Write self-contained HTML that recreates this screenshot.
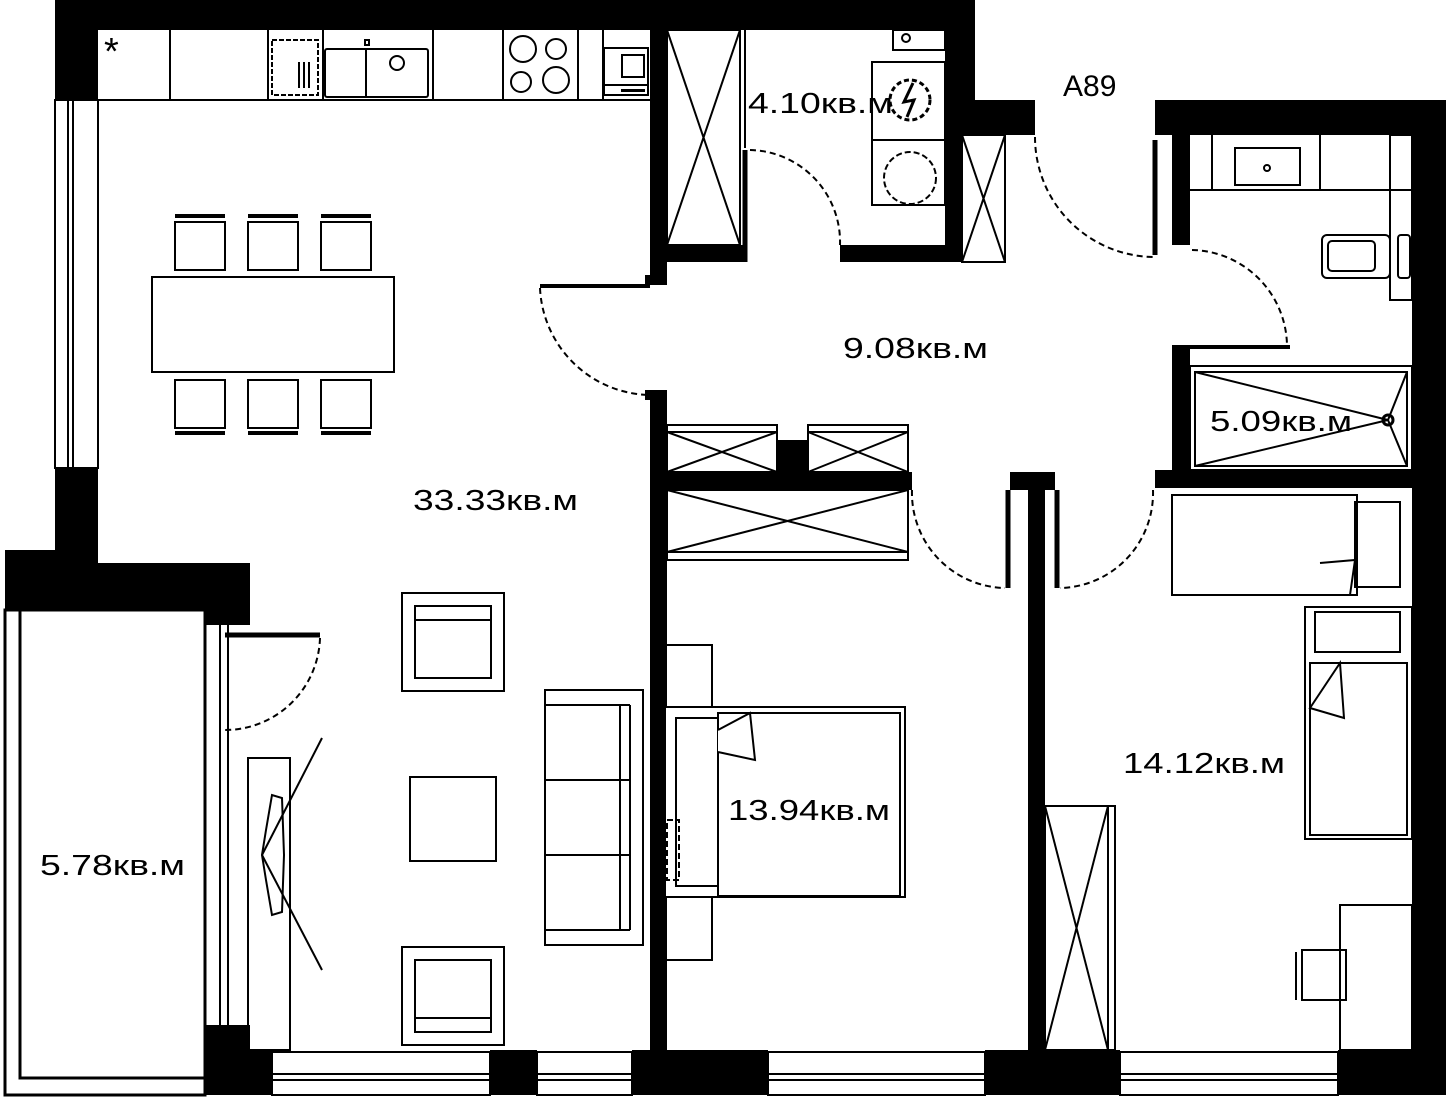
<!DOCTYPE html>
<html><head><meta charset="utf-8"><style>
html,body{margin:0;padding:0;background:#fff;}
svg{display:block;}
text{font-family:"Liberation Sans",sans-serif;fill:#000;}
</style></head><body>
<svg width="1446" height="1108" viewBox="0 0 1446 1108" xmlns="http://www.w3.org/2000/svg">
<g fill="#000">
<rect x="55" y="0" width="920" height="30"/>
<rect x="55" y="0" width="43" height="100"/>
<rect x="55" y="468" width="43" height="97"/>
<rect x="5" y="550" width="50" height="20"/>
<rect x="5" y="563" width="245" height="47"/>
<rect x="205" y="600" width="45" height="25"/>
<rect x="945" y="0" width="30" height="100"/>
<rect x="945" y="100" width="17" height="162"/>
<rect x="962" y="100" width="73" height="35"/>
<rect x="1155" y="100" width="291" height="35"/>
<rect x="1412" y="100" width="34" height="995"/>
<rect x="205" y="1050" width="67" height="45"/>
<rect x="205" y="1025" width="45" height="30"/>
<rect x="490" y="1050" width="47" height="45"/>
<rect x="632" y="1050" width="136" height="45"/>
<rect x="985" y="1050" width="135" height="45"/>
<rect x="1338" y="1050" width="108" height="45"/>
<rect x="650" y="30" width="17" height="255"/>
<rect x="645" y="275" width="22" height="10"/>
<rect x="667" y="245" width="78" height="17"/>
<rect x="840" y="245" width="105" height="17"/>
<rect x="650" y="390" width="17" height="660"/>
<rect x="645" y="390" width="22" height="10"/>
<rect x="667" y="472" width="245" height="18"/>
<rect x="777" y="440" width="31" height="32"/>
<rect x="1028" y="478" width="17" height="572"/>
<rect x="1010" y="472" width="45" height="18"/>
<rect x="1172" y="135" width="18" height="110"/>
<rect x="1172" y="345" width="18" height="125"/>
<rect x="1155" y="470" width="257" height="18"/>
</g>
<g fill="none" stroke="#000" stroke-width="2">
<rect x="55" y="100" width="43" height="368"/>
<line x1="68" y1="100" x2="68" y2="468"/><line x1="73" y1="100" x2="73" y2="468"/>
<rect x="5" y="610" width="200" height="485" stroke-width="3"/>
<rect x="20" y="610" width="185" height="468" stroke-width="3"/>
<line x1="220" y1="625" x2="220" y2="1025"/><line x1="228" y1="625" x2="228" y2="1025"/>
<line x1="225" y1="635" x2="320" y2="635" stroke-width="5"/>
<path d="M320 638 A95 95 0 0 1 225 730" stroke-dasharray="6 4"/>
<g>
<rect x="272" y="1052" width="218" height="43"/><line x1="272" y1="1074" x2="490" y2="1074"/><line x1="272" y1="1080" x2="490" y2="1080"/>
<rect x="537" y="1052" width="95" height="43"/><line x1="537" y1="1074" x2="632" y2="1074"/><line x1="537" y1="1080" x2="632" y2="1080"/>
<rect x="768" y="1052" width="217" height="43"/><line x1="768" y1="1074" x2="985" y2="1074"/><line x1="768" y1="1080" x2="985" y2="1080"/>
<rect x="1120" y="1052" width="218" height="43"/><line x1="1120" y1="1074" x2="1338" y2="1074"/><line x1="1120" y1="1080" x2="1338" y2="1080"/>
</g>
<line x1="98" y1="100" x2="650" y2="100"/>
<line x1="170" y1="30" x2="170" y2="100"/><line x1="268" y1="30" x2="268" y2="100"/>
<line x1="323" y1="30" x2="323" y2="100"/><line x1="433" y1="30" x2="433" y2="100"/>
<line x1="503" y1="30" x2="503" y2="100"/><line x1="578" y1="30" x2="578" y2="100"/>
<line x1="603" y1="30" x2="603" y2="100"/>
<rect x="272" y="40" width="46" height="55" stroke-dasharray="5 2"/>
<line x1="299" y1="62" x2="299" y2="88"/><line x1="304" y1="62" x2="304" y2="88"/><line x1="309" y1="62" x2="309" y2="88"/>
<rect x="325" y="49" width="103" height="48" rx="2"/><line x1="366" y1="49" x2="366" y2="97"/>
<circle cx="397" cy="63" r="7"/><rect x="365" y="40" width="4" height="5"/>
<circle cx="523" cy="49" r="13"/><circle cx="556" cy="49" r="10"/><circle cx="521" cy="82" r="10"/><circle cx="556" cy="80" r="13"/>
<rect x="604" y="48" width="44" height="47"/><line x1="604" y1="85" x2="648" y2="85"/>
<rect x="622" y="55" width="22" height="22"/><rect x="622" y="90" width="22" height="1"/>
<rect x="152" y="277" width="242" height="95"/>
<rect x="175" y="222" width="50" height="48"/><line x1="175" y1="216" x2="225" y2="216" stroke-width="4"/>
<rect x="248" y="222" width="50" height="48"/><line x1="248" y1="216" x2="298" y2="216" stroke-width="4"/>
<rect x="321" y="222" width="50" height="48"/><line x1="321" y1="216" x2="371" y2="216" stroke-width="4"/>
<rect x="175" y="380" width="50" height="48"/><line x1="175" y1="433" x2="225" y2="433" stroke-width="4"/>
<rect x="248" y="380" width="50" height="48"/><line x1="248" y1="433" x2="298" y2="433" stroke-width="4"/>
<rect x="321" y="380" width="50" height="48"/><line x1="321" y1="433" x2="371" y2="433" stroke-width="4"/>
<rect x="402" y="593" width="102" height="98"/><rect x="415" y="606" width="76" height="72"/><line x1="415" y1="620" x2="491" y2="620"/>
<rect x="402" y="947" width="102" height="98"/><rect x="415" y="960" width="76" height="72"/><line x1="415" y1="1018" x2="491" y2="1018"/>
<rect x="410" y="777" width="86" height="84"/>
<rect x="545" y="690" width="98" height="255"/><rect x="545" y="705" width="75" height="225"/>
<line x1="545" y1="780" x2="630" y2="780"/><line x1="545" y1="855" x2="630" y2="855"/>
<line x1="620" y1="705" x2="630" y2="705"/><line x1="630" y1="705" x2="630" y2="930"/><line x1="620" y1="930" x2="630" y2="930"/>
<rect x="248" y="758" width="42" height="292"/>
<path d="M272 795 L266 830 L262 855 L266 880 L272 915 L282 912 L284 855 L282 798 Z"/>
<line x1="322" y1="738" x2="262" y2="855"/><line x1="262" y1="855" x2="322" y2="970"/>
<rect x="667" y="30" width="73" height="215"/><line x1="667" y1="30" x2="740" y2="245"/><line x1="740" y1="30" x2="667" y2="245"/>
<line x1="745" y1="30" x2="745" y2="148"/>
<rect x="962" y="135" width="43" height="127"/><line x1="962" y1="135" x2="1005" y2="262"/><line x1="1005" y1="135" x2="962" y2="262"/>
<rect x="893" y="30" width="52" height="20"/><circle cx="906" cy="38" r="4"/>
<rect x="872" y="62" width="73" height="143"/><line x1="872" y1="140" x2="945" y2="140"/>
<circle cx="910" cy="100" r="20" stroke-dasharray="5 3" stroke-width="3"/>
<path d="M913 83 L904 102 L914 100 L907 117" stroke-width="3"/>
<circle cx="910" cy="178" r="26" stroke-dasharray="6 3"/>
<line x1="745" y1="150" x2="745" y2="262" stroke-width="5"/>
<path d="M750 150 A92 92 0 0 1 840 245" stroke-dasharray="6 4"/>
<line x1="540" y1="286" x2="650" y2="286" stroke-width="4"/>
<path d="M540 288 A112 112 0 0 0 652 395" stroke-dasharray="6 4"/>
<line x1="1155" y1="140" x2="1155" y2="255" stroke-width="5"/>
<path d="M1035 137 A120 120 0 0 0 1155 257" stroke-dasharray="6 4"/>
<line x1="1190" y1="347" x2="1290" y2="347" stroke-width="4"/>
<path d="M1192 250 A97 97 0 0 1 1287 345" stroke-dasharray="6 4"/>
<line x1="1008" y1="490" x2="1008" y2="588" stroke-width="5"/>
<path d="M912 490 A95 95 0 0 0 1005 588" stroke-dasharray="6 4"/>
<line x1="1057" y1="490" x2="1057" y2="588" stroke-width="5"/>
<path d="M1153 490 A95 95 0 0 1 1060 588" stroke-dasharray="6 4"/>
<rect x="667" y="425" width="110" height="47"/><line x1="667" y1="432" x2="777" y2="432"/><line x1="667" y1="432" x2="777" y2="472"/><line x1="777" y1="432" x2="667" y2="472"/>
<rect x="808" y="425" width="100" height="47"/><line x1="808" y1="432" x2="908" y2="432"/><line x1="808" y1="432" x2="908" y2="472"/><line x1="908" y1="432" x2="808" y2="472"/>
<rect x="667" y="490" width="241" height="70"/><line x1="667" y1="552" x2="908" y2="552"/><line x1="667" y1="490" x2="908" y2="552"/><line x1="908" y1="490" x2="667" y2="552"/>
<line x1="1190" y1="190" x2="1412" y2="190"/><line x1="1212" y1="135" x2="1212" y2="190"/><line x1="1320" y1="135" x2="1320" y2="190"/>
<rect x="1235" y="148" width="65" height="37"/><circle cx="1267" cy="168" r="3"/>
<rect x="1390" y="135" width="22" height="165"/>
<rect x="1322" y="235" width="68" height="43" rx="5"/><rect x="1328" y="241" width="47" height="30" rx="4"/>
<rect x="1398" y="235" width="12" height="43" rx="3"/>
<rect x="1190" y="366" width="222" height="104"/>
<rect x="1195" y="372" width="212" height="94"/>
<line x1="1195" y1="372" x2="1388" y2="420"/><line x1="1195" y1="466" x2="1388" y2="420"/>
<line x1="1407" y1="372" x2="1388" y2="420"/><line x1="1407" y1="466" x2="1388" y2="420"/>
<circle cx="1388" cy="420" r="5" stroke-width="3"/>
<rect x="665" y="645" width="47" height="315"/>
<rect x="665" y="707" width="240" height="190" fill="#fff"/>
<rect x="676" y="718" width="42" height="168"/>
<rect x="718" y="713" width="182" height="183"/>
<path d="M718 730 L750 713 L755 760 L718 752" fill="#fff"/>
<rect x="667" y="820" width="12" height="60" stroke-dasharray="6 3"/>
<rect x="1172" y="495" width="185" height="100"/>
<rect x="1355" y="502" width="45" height="85"/>
<path d="M1320 563 L1355 560 L1350 595" fill="#fff"/>
<rect x="1305" y="607" width="107" height="232"/><rect x="1315" y="612" width="85" height="40"/>
<rect x="1310" y="663" width="97" height="172" fill="#fff"/>
<path d="M1310 708 L1340 663 L1344 718 Z" fill="#fff"/>
<rect x="1045" y="806" width="70" height="244"/><line x1="1108" y1="806" x2="1108" y2="1050"/>
<line x1="1045" y1="806" x2="1108" y2="1050"/><line x1="1108" y1="806" x2="1045" y2="1050"/>
<rect x="1340" y="905" width="72" height="145"/>
<rect x="1302" y="950" width="44" height="50"/><line x1="1296" y1="952" x2="1296" y2="1000"/>
</g>
<g font-size="29">
<text x="413" y="510" textLength="165" lengthAdjust="spacingAndGlyphs">33.33кв.м</text>
<text x="843" y="358" textLength="145" lengthAdjust="spacingAndGlyphs">9.08кв.м</text>
<text x="748" y="113" textLength="145" lengthAdjust="spacingAndGlyphs">4.10кв.м</text>
<text x="1063" y="96" font-size="30">A89</text>
<text x="1210" y="431" textLength="142" lengthAdjust="spacingAndGlyphs">5.09кв.м</text>
<text x="40" y="875" textLength="145" lengthAdjust="spacingAndGlyphs">5.78кв.м</text>
<text x="728" y="820" textLength="162" lengthAdjust="spacingAndGlyphs">13.94кв.м</text>
<text x="1123" y="773" textLength="162" lengthAdjust="spacingAndGlyphs">14.12кв.м</text>
<text x="104" y="64" font-size="38">*</text>
</g>
</svg>
</body></html>
